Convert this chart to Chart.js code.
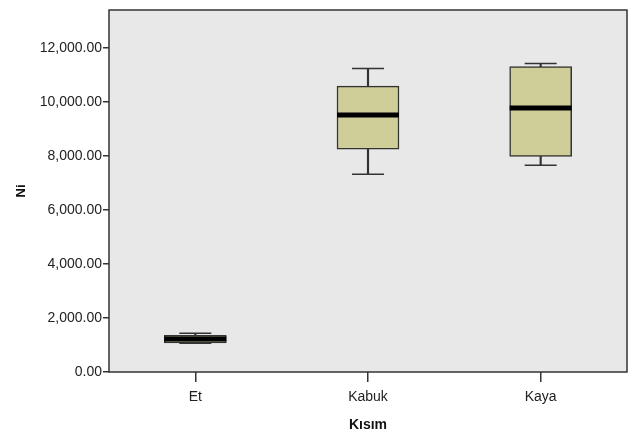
<!DOCTYPE html>
<html>
<head>
<meta charset="utf-8">
<style>
  html, body { margin: 0; padding: 0; background: #fff; }
  #wrap { width: 629px; height: 438px; }
</style>
<script src="https://cdn.jsdelivr.net/npm/chart.js@4.4.0/dist/chart.umd.min.js"></script>
</head>
<body>
<div id="wrap"><canvas id="c"></canvas></div>
<script>
'use strict';

// ---- Data ----
const CATEGORIES = ['Et', 'Kabuk', 'Kaya'];
const MIN_VALS    = [1060, 7320, 7650];
const Q1_VALS     = [1080, 8250, 7980];
const MEDIAN_VALS = [1220, 9510, 9770];
const Q3_VALS     = [1360, 10580, 11310];
const MAX_VALS    = [1430, 11230, 11420];
const Y_TICKS     = [0, 2000, 4000, 6000, 8000, 10000, 12000];

const FONT = "'Liberation Sans', Arial, sans-serif";
const INK = '#333333';

// ---- Plot area background + frame ----
const frame = {
  id: 'frame',
  beforeDraw(chart) {
    const { ctx, chartArea: a } = chart;
    ctx.save();
    ctx.fillStyle = '#e8e8e8';
    ctx.fillRect(a.left, a.top, a.right - a.left, a.bottom - a.top);
    ctx.restore();
  },
  afterDraw(chart) {
    const { ctx, chartArea: a } = chart;
    ctx.save();
    ctx.strokeStyle = INK;
    ctx.lineWidth = 1.5;
    ctx.strokeRect(a.left, a.top, a.right - a.left, a.bottom - a.top);
    ctx.restore();
  }
};

const ctx = document.getElementById('c');
new Chart(ctx, {
  type: 'bar',
  data: {
    labels: CATEGORIES,
    datasets: [
      { // whisker stems
        type: 'bar',
        data: MIN_VALS.map((v, i) => [v, MAX_VALS[i]]),
        backgroundColor: INK,
        barThickness: 1.5,
        grouped: false,
        order: 4,
      },
      { // boxes
        type: 'bar',
        data: Q1_VALS.map((v, i) => [v, Q3_VALS[i]]),
        backgroundColor: '#cfcd98',
        borderColor: INK,
        borderWidth: 1.5,
        borderSkipped: false,
        barThickness: 62,
        grouped: false,
        order: 3,
      },
      { // whisker caps (low)
        type: 'line',
        data: MIN_VALS,
        showLine: false,
        pointStyle: 'line',
        pointRadius: 16,
        pointBorderWidth: 1.5,
        pointBorderColor: INK,
        order: 2,
      },
      { // whisker caps (high)
        type: 'line',
        data: MAX_VALS,
        showLine: false,
        pointStyle: 'line',
        pointRadius: 16,
        pointBorderWidth: 1.5,
        pointBorderColor: INK,
        order: 2,
      },
      { // medians
        type: 'line',
        data: MEDIAN_VALS,
        showLine: false,
        pointStyle: 'line',
        pointRadius: 31,
        pointBorderWidth: 5,
        pointBorderColor: '#000',
        order: 1,
      },
    ]
  },
  options: {
    responsive: true,
    maintainAspectRatio: false,
    animation: false,
    layout: { autoPadding: false, padding: { left: 0, right: 2, top: 10, bottom: 0 } },
    plugins: { legend: { display: false }, tooltip: { enabled: false } },
    scales: {
      x: {
        offset: true,
        grid: { offset: false, drawOnChartArea: false, color: INK, lineWidth: 1.5, tickLength: 10 },
        border: { display: false },
        ticks: { color: '#222', font: { family: FONT, size: 14 }, padding: 7 },
        title: { display: true, text: 'Kısım', color: '#111', font: { family: FONT, size: 14, weight: 'bold' }, padding: { top: 8 } },
        afterFit: (s) => { s.height = 66; },
      },
      y: {
        min: 0,
        max: 13400,
        afterBuildTicks: (s) => { s.ticks = Y_TICKS.map(v => ({ value: v })); },
        grid: { drawOnChartArea: false, color: INK, lineWidth: 1.5, tickLength: 6 },
        border: { display: false },
        ticks: {
          color: '#222',
          font: { family: FONT, size: 14 },
          padding: 1,
          callback: (v) => Number(v).toLocaleString('en-US', { minimumFractionDigits: 2, maximumFractionDigits: 2 }),
        },
        title: { display: true, text: 'Ni', color: '#111', font: { family: FONT, size: 13, weight: 'bold' }, padding: { top: 14, bottom: 0 } },
        afterFit: (s) => { s.width = 109; },
      }
    }
  },
  plugins: [frame]
});
</script>
</body>
</html>
